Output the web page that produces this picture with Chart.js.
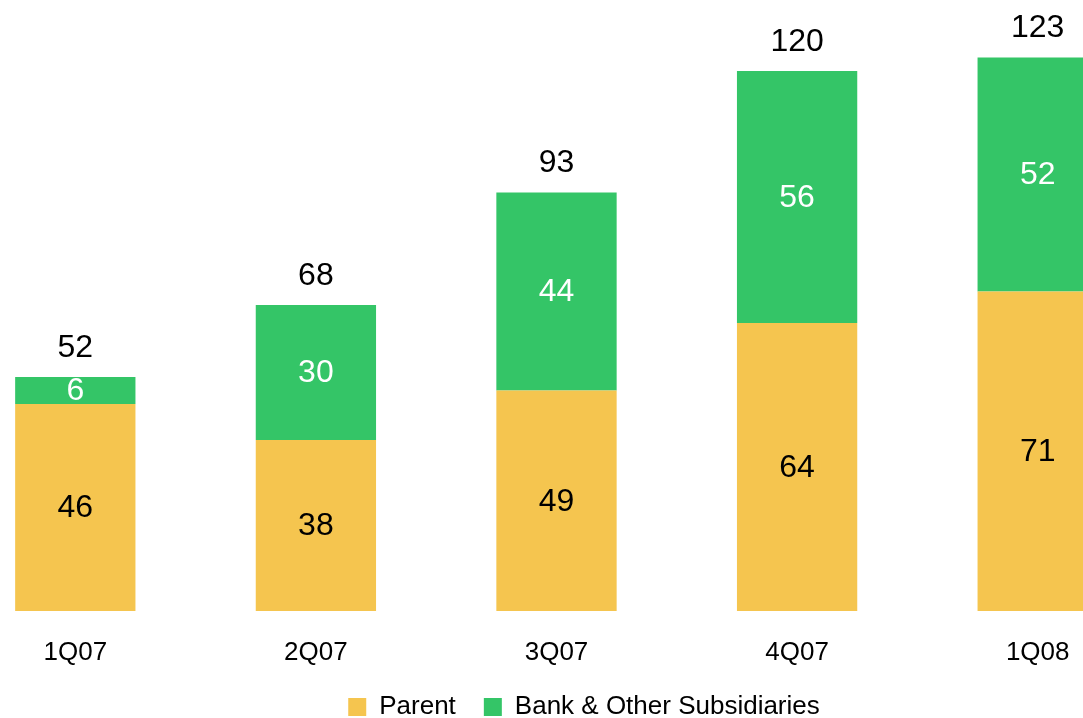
<!DOCTYPE html>
<html>
<head>
<meta charset="utf-8">
<script src="https://cdn.jsdelivr.net/npm/chart.js@4/dist/chart.umd.min.js"></script>
<style>
  html, body { margin: 0; padding: 0; background: #fff; overflow: hidden; }
  body { width: 1083px; height: 718px; position: relative; }
  #wrap { position: absolute; left: -45px; top: 0; width: 1258px; height: 730px; }
</style>
</head>
<body>
<div id="wrap"><canvas id="capitalChart"></canvas></div>
<script>
const quarters = ["1Q07", "2Q07", "3Q07", "4Q07", "1Q08"];
const parentVals = [46, 38, 49, 64, 71];
const bankVals = [6, 30, 44, 56, 52];

const FONT = "'Liberation Sans', Arial, sans-serif";

// writes each segment's value in its middle and the stack total above it
const barLabels = {
  id: "barLabels",
  afterDatasetsDraw(chart) {
    const ctx = chart.ctx;
    ctx.save();
    ctx.font = "32px " + FONT;
    ctx.textAlign = "center";
    ctx.textBaseline = "middle";
    chart.data.datasets.forEach((ds, di) => {
      const meta = chart.getDatasetMeta(di);
      meta.data.forEach((bar, i) => {
        ctx.fillStyle = di === 0 ? "#000" : "#fff";
        ctx.fillText(ds.data[i], bar.x, (bar.y + bar.base) / 2 + 1);
      });
    });
    const top = chart.getDatasetMeta(chart.data.datasets.length - 1);
    top.data.forEach((bar, i) => {
      const total = parentVals[i] + bankVals[i];
      ctx.fillStyle = "#000";
      ctx.fillText(total, bar.x, bar.y - 29);
    });
    ctx.restore();
  }
};

const data = {
  labels: quarters,
  datasets: [
    { label: "Parent", data: parentVals, backgroundColor: "#F5C54F" },
    { label: "Bank & Other Subsidiaries", data: bankVals, backgroundColor: "#34C567" }
  ]
};

const config = {
  type: "bar",
  data: data,
  options: {
    responsive: true,
    maintainAspectRatio: false,
    animation: false,
    layout: { padding: 0 },
    categoryPercentage: 0.5,
    barPercentage: 1,
    scales: {
      x: {
        stacked: true,
        grid: { display: false },
        border: { display: false },
        ticks: { color: "#000", font: { family: FONT, size: 26 }, padding: 18 },
        afterFit(scale) { scale.height = 55; }
      },
      y: {
        stacked: true,
        position: "right",
        min: 0,
        max: 135.8,
        grid: { display: false },
        border: { display: false },
        ticks: { display: false },
        afterFit(scale) { scale.width = 55; }
      }
    },
    plugins: {
      tooltip: { enabled: false },
      legend: {
        position: "bottom",
        labels: {
          color: "#000",
          font: { family: FONT, size: 26 },
          boxWidth: 18,
          boxHeight: 18,
          padding: 28
        }
      }
    }
  },
  plugins: [barLabels]
};

const capitalChart = new Chart(document.getElementById("capitalChart"), config);
</script>
</body>
</html>
